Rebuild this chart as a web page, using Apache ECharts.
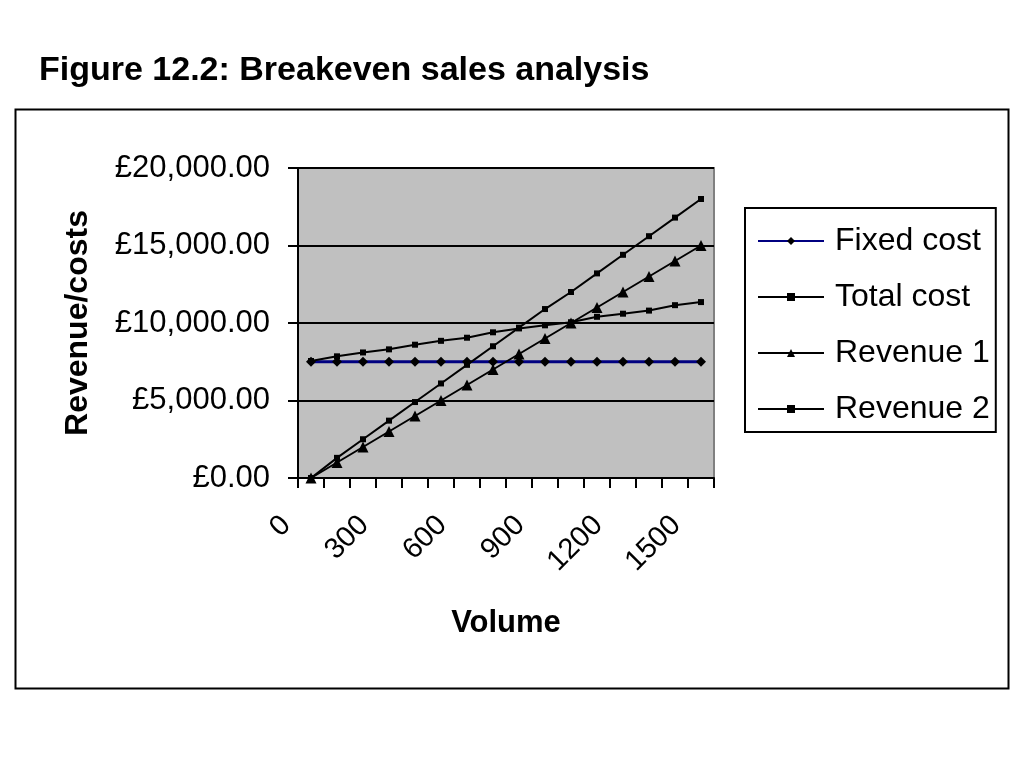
<!DOCTYPE html>
<html>
<head>
<meta charset="utf-8">
<script src="https://cdn.jsdelivr.net/npm/echarts@6/dist/echarts.min.js"></script>
<style>
html,body{margin:0;padding:0;background:#fff;}
#main{width:1024px;height:768px;}
</style>
</head>
<body>
<div id="main"></div>
<script>
var categories = ['0','100','200','300','400','500','600','700','800','900','1000','1100','1200','1300','1400','1500'];
var fixedCost = [7500,7500,7500,7500,7500,7500,7500,7500,7500,7500,7500,7500,7500,7500,7500,7500];
var totalCost = [7550,7850,8100,8300,8600,8850,9050,9400,9650,9850,10050,10400,10600,10800,11150,11350];
var revenue1 = [0,1000,2000,3000,4000,5000,6000,7000,8000,9000,10000,11000,12000,13000,14000,15000];
var revenue2 = [0,1300,2500,3700,4900,6100,7300,8500,9700,10900,12000,13200,14400,15600,16800,18000];
var yTicks = [0,5000,10000,15000,20000];

function fmt(v){
  var s = v.toFixed(2).split('.');
  s[0] = s[0].replace(/\B(?=(\d{3})+(?!\d))/g, ',');
  return '£' + s[0] + '.' + s[1];
}
var FONT = 'Liberation Sans, Arial, sans-serif';
var chart = echarts.init(document.getElementById('main'));
chart.setOption({
  animation: false,
  backgroundColor: '#ffffff',
  textStyle: {fontFamily: FONT, color: '#000'},
  title: {
    text: 'Figure 12.2: Breakeven sales analysis',
    left: 34, top: 49,
    textStyle: {fontFamily: FONT, fontSize: 34, fontWeight: 'bold', color: '#000'}
  },
  graphic: [{
    type: 'rect', left: 13, top: 107, z: -1,
    shape: {width: 993, height: 579},
    style: {fill: 'none', stroke: '#000', lineWidth: 2}
  }],
  legend: {
    orient: 'vertical',
    left: 745, top: 208,
    padding: [15, 6, 5, 12],
    itemWidth: 66, itemHeight: 10, itemGap: 20,
    borderColor: '#000', borderWidth: 2,
    backgroundColor: '#fff',
    textStyle: {fontFamily: FONT, fontSize: 32, color: '#000', lineHeight: 36, padding: [0, 0, 0, 6]},
    data: ['Fixed cost','Total cost','Revenue 1','Revenue 2']
  },
  grid: {
    left: 298, top: 168, right: 310, bottom: 290,
    show: true, backgroundColor: '#c0c0c0', borderColor: '#808080', borderWidth: 2
  },
  xAxis: {
    type: 'category',
    data: categories,
    boundaryGap: true,
    name: 'Volume',
    nameLocation: 'middle',
    nameGap: 130,
    nameTextStyle: {fontFamily: FONT, fontSize: 31, fontWeight: 'bold', color: '#000'},
    axisLine: {lineStyle: {color: '#000', width: 2}},
    axisTick: {show: true, interval: 0, length: 10, lineStyle: {color: '#000', width: 2}},
    axisLabel: {
      interval: 2, rotate: 45, margin: 18,
      fontFamily: FONT, fontSize: 29, color: '#000',
      padding: [0, 35, 0, 0]
    },
    splitLine: {show: false}
  },
  yAxis: {
    type: 'value',
    min: 0, max: 20000, interval: 5000,
    name: 'Revenue/costs',
    nameLocation: 'middle',
    nameGap: 204,
    nameRotate: 90,
    nameTextStyle: {fontFamily: FONT, fontSize: 32, fontWeight: 'bold', color: '#000'},
    axisLine: {show: true, lineStyle: {color: '#000', width: 2}},
    axisTick: {show: true, length: 10, lineStyle: {color: '#000', width: 2}},
    axisLabel: {
      margin: 28, fontFamily: FONT, fontSize: 31, color: '#000',
      formatter: function(v){ return yTicks.indexOf(v) >= 0 ? fmt(v) : ''; }
    },
    splitLine: {show: true, lineStyle: {color: '#000', width: 2}}
  },
  series: [
    {name: 'Fixed cost', type: 'line', data: fixedCost,
     symbol: 'diamond', symbolSize: 10, showAllSymbol: true,
     lineStyle: {color: '#000080', width: 3},
     itemStyle: {color: '#000', borderWidth: 0}},
    {name: 'Total cost', type: 'line', data: totalCost,
     symbol: 'rect', symbolSize: 6, showAllSymbol: true,
     lineStyle: {color: '#000', width: 2},
     itemStyle: {color: '#000', borderWidth: 0}},
    {name: 'Revenue 1', type: 'line', data: revenue1,
     symbol: 'triangle', symbolSize: 11, showAllSymbol: true,
     lineStyle: {color: '#000', width: 2},
     itemStyle: {color: '#000', borderWidth: 0}},
    {name: 'Revenue 2', type: 'line', data: revenue2,
     symbol: 'rect', symbolSize: 6, showAllSymbol: true,
     lineStyle: {color: '#000', width: 2},
     itemStyle: {color: '#000', borderWidth: 0}}
  ]
});
</script>
</body>
</html>
